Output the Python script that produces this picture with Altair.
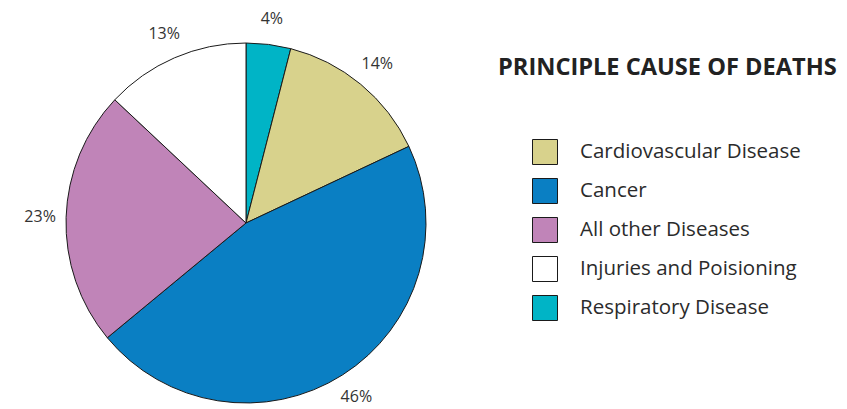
import altair as alt
import pandas as pd

causes = ["Respiratory Disease", "Cardiovascular Disease", "Cancer", "All other Diseases", "Injuries and Poisioning"]
shares = [4, 14, 46, 23, 13]
pie_order = [0, 1, 2, 3, 4]
legend_order = ["Cardiovascular Disease", "Cancer", "All other Diseases", "Injuries and Poisioning", "Respiratory Disease"]
legend_colors = ["#d8d28c", "#0a7fc3", "#c084b8", "#ffffff", "#00b4c6"]
title_text = "PRINCIPLE CAUSE OF DEATHS"

df = pd.DataFrame({
    "cause": causes,
    "share": shares,
    "order": pie_order,
    "label": [f"{v}%" for v in shares],
})

FONT = "Open Sans"
CX, CY = 238, 215

base = alt.Chart(df).encode(
    theta=alt.Theta("share:Q", stack=True),
    order=alt.Order("order:Q"),
    x=alt.value(CX),
    y=alt.value(CY),
)

pie = base.mark_arc(radius=180, stroke="#1a1a1a", strokeWidth=1).encode(
    color=alt.Color(
        "cause:N",
        scale=alt.Scale(domain=legend_order, range=legend_colors),
        legend=alt.Legend(
            title=None,
            orient="none",
            legendX=524,
            legendY=131,
            symbolType="square",
            symbolSize=625,
            symbolStrokeColor="#1a1a1a",
            symbolStrokeWidth=1,
            symbolOpacity=1,
            labelFontSize=20.5,
            labelFont=FONT,
            labelColor="#2b2b2b",
            labelOffset=22,
            rowPadding=9,
            labelLimit=400,
        ),
    )
)

labels = base.mark_text(radius=206, fontSize=16, font=FONT, color="#333333").encode(
    text="label:N"
)

title = alt.Chart(pd.DataFrame({"t": [title_text]})).mark_text(
    font=FONT, fontSize=23.6, fontWeight="bold", color="#222222", align="left", baseline="alphabetic"
).encode(text="t:N", x=alt.value(490), y=alt.value(67))

chart = alt.layer(pie, labels, title).properties(
    width=831, height=401, padding=0, autosize=alt.AutoSizeParams(type="none")
).configure(background="#ffffff").configure_view(stroke=None)

chart.save("out.html", embed_options={"renderer": "svg", "actions": False})
